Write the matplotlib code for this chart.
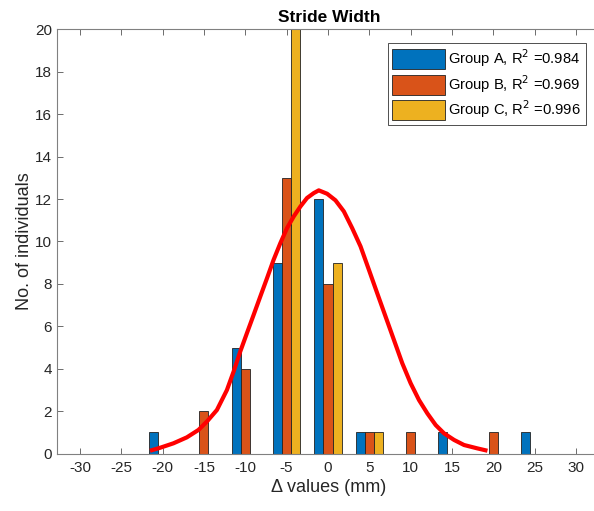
import numpy as np
import matplotlib.pyplot as plt

plt.rcParams['font.family'] = ['Liberation Sans', 'DejaVu Sans']
plt.rcParams['axes.unicode_minus'] = False

# Histogram counts per 5 mm bin
bin_centers = [-20, -15, -10, -5, 0, 5, 10, 15, 20, 25]
group_a = [1, 0, 5, 9, 12, 1, 0, 1, 0, 1]
group_b = [0, 2, 4, 13, 8, 1, 1, 0, 1, 0]
group_c = [0, 0, 0, 20, 9, 1, 0, 0, 0, 0]
labels = ["Group A, R$^2$ =0.984", "Group B, R$^2$ =0.969", "Group C, R$^2$ =0.996"]

# Fitted normal curve, sampled points
fit_x = [-21.52, -20.30, -18.69, -17.07, -15.66, -14.65, -13.43, -12.22, -11.41,
         -10.61, -9.80, -8.99, -8.18, -7.37, -6.57, -5.76, -4.95, -4.14, -3.33,
         -2.53, -1.72, -1.11, -0.10, 0.91, 1.92, 2.93, 3.94, 4.95, 5.96, 6.97,
         7.98, 8.99, 10.00, 11.01, 12.02, 13.03, 14.04, 15.25, 16.46, 18.08, 19.29]
fit_y = [0.14, 0.28, 0.49, 0.77, 1.12, 1.51, 2.06, 3.00, 3.87,
         4.81, 5.68, 6.54, 7.41, 8.27, 9.14, 9.92, 10.63, 11.18, 11.65,
         12.05, 12.28, 12.41, 12.25, 11.94, 11.42, 10.63, 9.77, 8.67, 7.56, 6.46,
         5.36, 4.26, 3.32, 2.53, 1.90, 1.35, 0.96, 0.65, 0.41, 0.25, 0.14]

colors = ["#0072BD", "#D95319", "#EDB120"]

fig = plt.figure(figsize=(5.94, 5.11), dpi=100)
ax = fig.add_axes([0.0955, 0.1121, 0.916, 0.8306])

x = np.array(bin_centers, dtype=float)
w = 1.1
for i, (vals, c, lab) in enumerate(zip([group_a, group_b, group_c], colors, labels)):
    ax.bar(x + (i - 1) * w, vals, width=w, color=c, edgecolor="#222222",
           linewidth=0.6, label=lab, zorder=2)

ax.plot(fit_x, fit_y, color="red", linewidth=3.0, zorder=3,
        solid_capstyle="butt", solid_joinstyle="round")

ax.set_xlim(-32.8, 33)
ax.set_ylim(0, 20)
ax.set_xticks(np.arange(-30, 31, 5))
ax.set_yticks(np.arange(0, 21, 2))
ax.tick_params(direction="in", top=True, right=True, length=4, width=0.6,
               color="#555555", labelsize=11, labelcolor="#262626")
ax.tick_params(axis="x", pad=5)
for s in ax.spines.values():
    s.set_color("#808080")
    s.set_linewidth(0.8)

ax.set_title("Stride Width", fontsize=12.5, fontweight="bold", pad=5)
ax.set_xlabel("Δ values (mm)", fontsize=13, color="#262626", labelpad=3)
ax.set_ylabel("No. of individuals", fontsize=13, color="#262626", labelpad=1)

leg = ax.legend(loc="upper right", bbox_to_anchor=(0.972, 0.968), fontsize=10.6,
                handlelength=3.6, handleheight=1.7, handletextpad=0.2,
                borderpad=0.3, labelspacing=0.25, fancybox=False, framealpha=1,
                borderaxespad=0)
leg.get_frame().set_edgecolor("#333333")
leg.get_frame().set_linewidth(0.6)

fig.savefig("out.png", dpi=100)
